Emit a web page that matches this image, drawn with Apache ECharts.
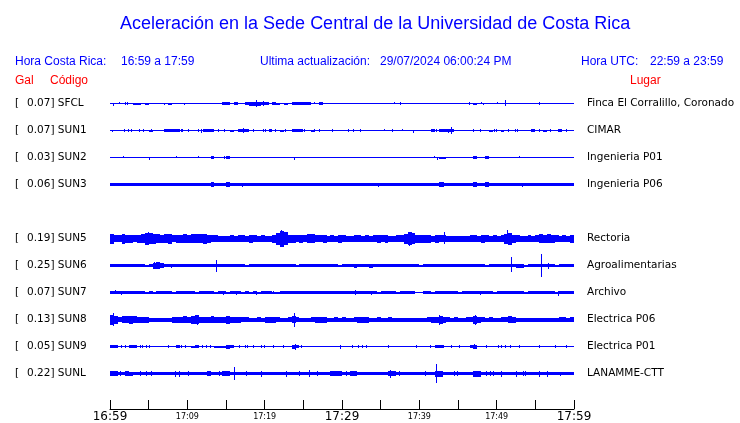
<!DOCTYPE html>
<html><head><meta charset="utf-8">
<script src="https://cdn.jsdelivr.net/npm/echarts@6/dist/echarts.min.js"></script>
<style>html,body{margin:0;padding:0;background:#fff}#c{width:740px;height:423px}</style>
</head><body><div id="c"></div>
<script>
// ---- data ----
const stations = ['SFCL','SUN1','SUN2','SUN3','SUN5','SUN6','SUN7','SUN8','SUN9','SUNL'];
const peakGal  = ['0.07','0.07','0.03','0.06','0.19','0.25','0.07','0.13','0.05','0.22'];
const places   = ['Finca El Corralillo, Coronado','CIMAR','Ingenieria P01','Ingenieria P06','Rectoria','Agroalimentarias','Archivo','Electrica P06','Electrica P01','LANAMME-CTT'];
const slots    = [0,1,2,3,5,6,7,8,9,10];
const tickLabels = ['16:59','17:09','17:19','17:29','17:39','17:49','17:59'];
const bigTicks   = [0,30,60];

// envelope thickness per 30-second bin (base-36 digit = band height)
const env_SFCL = "1111112212 1111121111 1111111113 3131134443 3132121333 3311311111 1111111111 1111111111 1111111111 1111211111 1111111111 1111111111";
const env_SUN1 = "1111111111 2111333311 1111333111 1213331111 1311211333 1121111111 1111111111 1111111111 1113133331 1111111121 1211111113 1121113111";
const env_SUN2 = "1111111111 1111111111 1111113111 3111111111 1111111111 1111111111 1111111111 1111111111 1111122111 1111311311 1111111111 1111111111";
const env_SUN3 = "3333333333 3333333333 3333335333 5333333333 3333333333 3333333333 3333333333 3333333333 3333353333 3333533533 3333333333 3333333333";
const env_SUN5 = "a77a88789c ba989a7889 8999a87766 6767768767 668cgd8878 7997786768 7667767678 786677adb8 8886877666 6667768767 67ac876676 7989876768";
const env_SUN6 = "3333333332 3675333333 3333333333 3333323333 3333333323 3333333332 3334333433 3333333333 2333333333 3333333233 3333344233 3333323333";
const env_SUN7 = "3333333332 3233332333 3323333233 2333232323 3322333333 3333333333 3333333332 3333233331 1332333333 2333333332 3333333233 3333323333";
const env_SUN8 = "a857787666 4444446667 6896667666 8666554454 6665445754 4456664454 5445666445 4454444444 4456686545 4455865454 4557644444 4444445545";
const env_SUN9 = "3311133111 1111111311 1231111222 4311111111 1111111431 1111111111 1111111111 1111111111 1111331111 1113411111 1111111111 1111111111";
const env_SUNL = "5533543333 3333333333 3333353335 5333333333 3333333333 3333333555 3355333333 3355333333 3333663333 3333663333 3333333333 3333333333";

// narrow spikes: [minute, up, down]
const spk_SFCL = [[0.45,0.5,2],[1.2,2,0.5],[1.95,2,1],[2.3,1.5],[7,1,1.5],[9.6,0.5,1.5],[18.95,3.5],[19.85,3,2],[26.4,1.5,0.5],[36.85,1.5,0.5],[37.6,1.5],[46.5,1.5],[48.05,1.5,0.5],[48.3,0.5,1.5],[50.1,1.5,0.5],[51.2,3.3,2.7],[55.6,1.5]];
const spk_SUN1 = [[0.3,0.5,1.5],[1.85,1.5],[2.35,1.5],[2.8,1.5],[3.8,1.5],[4.3,1.5],[5.4,1.5],[9.2,1.5],[9.4,1.5],[10.15,1.5],[11.5,1.5],[11.85,2],[14,1.5],[14.85,1.5],[17.25,2.5],[18.5,1.5],[19.9,1.5],[20.15,1.5],[21.4,1.5],[22.65,1.5],[25.15,1.5],[26.4,1.5],[27.15,1.5],[28.75,1.5],[30.8,1.5],[31.45,1.5],[32.4,1.5],[35.5,2,0.5],[36.5,1.5],[37.8,2,0.5],[39.3,0.5,2],[41.9,1.5],[42.25,1.5],[43.75,2],[44.1,3.5],[47,1.5],[47.85,1.5],[49.7,1.5],[50,1.5],[51.5,1.5],[52.4,1.5],[52.7,1.5],[55.5,1.5],[56.9,1.5],[58,1.5],[59.05,1.5]];
const spk_SUN2 = [[1.7,2,0.5],[5.15,0.5,2],[8.6,2,0.5],[11.4,2,0.5],[14.85,1.5],[23.8,0.5,2],[41.95,2,0.5],[42.35,0.5,2],[52.95,2,0.5]];
const spk_SUN3 = [[17.1,1.5,2.5],[34.7,1.5,2.5],[43.1,2.7],[53.35,2]];
const spk_SUN5 = [[4.95,7,6],[22.2,8.5,8.5],[38.75,7,7.5],[43.25,7,5],[51.45,8.5,5.5]];
const spk_SUN6 = [[0.55,2,0.5],[5.8,3.5],[8,0.5,2.5],[13.8,6],[51.95,8.3,6.7],[55.75,11.7],[56.7,3]];
const spk_SUN7 = [[0.75,2.5,1.5],[1.5,1.5,2.5],[9.4,2,1.5],[14.65,1.5,2],[16.4,1.5,2],[18.95,2],[21.1,2,1.5],[24.5,2,1.5],[31.7,2.5],[33.85,2],[47.85,2],[58,1.5,3]];
const spk_SUN8 = [[0.45,6.3,6],[11.35,5],[15.3,4,4.7],[23.9,6.3,7],[42.55,5],[47.25,5,5.7]];
const spk_SUN9 = [[1.5,1.5],[1.95,1.5],[3.9,1.5],[4.2,1.5],[4.75,1.5],[5.15,1.5],[7.55,1.5],[9.2,1.5],[9.7,1.5],[11.95,1.5],[12.5,1.5],[13,1.5],[15.95,1.5],[16.8,1.5],[17.5,1.5],[17.75,1.5],[18.5,1.5],[19.6,1.5],[20,1.5],[21.1,1.5],[22.4,1.5],[24,3],[24.8,1.5],[29.75,1.5],[29.85,0.5,2],[31.35,1.5],[32.1,1.5],[32.7,1.5],[33.2,1.5],[36,1.5],[39.65,1.5],[41.4,1.5],[43.1,1.5],[44.2,1.5],[45.25,1.5],[47.15,2.5],[48.7,1.5],[50.2,1.5],[50.65,1.5],[51.1,1.5],[51.75,1.5],[53,1.5],[55.6,1.5],[57.55,1.5],[59,1.5]];
const spk_SUNL = [[1.4,2.5],[3.9,2.5],[4.75,2.5],[5.4,2.5],[8.5,3],[9,3],[10.15,2.5],[14.2,2.5],[16.15,6.7],[17.65,2.5],[19.6,3],[22.85,3],[24.55,2.5],[25.85,3.3],[26.8,2.5],[30.6,2.5],[36.25,4],[37.4,2.5],[40.75,2.5],[42.25,9.3],[44.6,2.5],[44.9,2.5],[48.7,2.5],[49.15,2.5],[49.6,2.5],[50.65,3],[52.6,3],[53.5,2.5],[53.7,2.5],[55.6,3],[56.6,3],[58.2,2]];

const envStrings = [env_SFCL,env_SUN1,env_SUN2,env_SUN3,env_SUN5,env_SUN6,env_SUN7,env_SUN8,env_SUN9,env_SUNL];
const spikeLists = [spk_SFCL,spk_SUN1,spk_SUN2,spk_SUN3,spk_SUN5,spk_SUN6,spk_SUN7,spk_SUN8,spk_SUN9,spk_SUNL];

// ---- build series data ----
const SLOT = 27, BIN = 0.5;
const center = s => 13.5 + SLOT * s;
const envData = [], spikeData = [], labelData = [];
envStrings.forEach((str, k) => {
  const v = str.replace(/\s/g,'').split('').map(ch => parseInt(ch, 36));
  let i = 0;
  while (i < v.length) {
    let j = i; while (j + 1 < v.length && v[j+1] === v[i]) j++;
    envData.push([i*BIN, (j+1)*BIN, center(slots[k]), v[i]]);
    i = j + 1;
  }
  spikeLists[k].forEach(p => spikeData.push([p[0], center(slots[k]), p[1], p.length > 2 ? p[2] : p[1]]));
  labelData.push([0, center(slots[k]), k]);
});

const BLUE = '#0000ff';
const HF = '12px "Liberation Sans", Arial, sans-serif';
const chart = echarts.init(document.getElementById('c'), null, {renderer:'canvas'});
chart.setOption({
  animation: false,
  title: {
    text: 'Aceleración en la Sede Central de la Universidad de Costa Rica',
    left: 115, top: 10,
    textStyle: {color: BLUE, fontSize: 18, fontWeight: 'normal', fontFamily: 'Liberation Sans'}
  },
  graphic: [
    {type:'text', left:15, top:55.5, style:{text:'Hora Costa Rica:', fill:BLUE, font:HF}},
    {type:'text', left:121, top:55.5, style:{text:'16:59 a 17:59', fill:BLUE, font:HF}},
    {type:'text', left:260, top:55.5, style:{text:'Ultima actualización:', fill:BLUE, font:HF}},
    {type:'text', left:380, top:55.5, style:{text:'29/07/2024 06:00:24 PM', fill:BLUE, font:HF}},
    {type:'text', left:581, top:55.5, style:{text:'Hora UTC:', fill:BLUE, font:HF}},
    {type:'text', left:650, top:55.5, style:{text:'22:59 a 23:59', fill:BLUE, font:HF}},
    {type:'text', left:15, top:75, style:{text:'Gal', fill:'#ff0000', font:HF}},
    {type:'text', left:50, top:75, style:{text:'Código', fill:'#ff0000', font:HF}},
    {type:'text', left:630, top:75, style:{text:'Lugar', fill:'#ff0000', font:HF}}
  ],
  grid: {left: 110, top: 90, width: 464, height: 319, containLabel: false},
  xAxis: {
    type: 'value', min: 0, max: 60, interval: 5, position: 'bottom',
    axisLine: {show: true, onZero: false, lineStyle: {color: '#000', width: 1}},
    axisTick: {show: true, inside: true, length: 9, lineStyle: {color: '#000'}},
    splitLine: {show: false},
    axisLabel: {
      margin: 1,
      formatter: v => {
        if (v % 10 !== 0) return '';
        const t = tickLabels[v/10];
        return bigTicks.indexOf(v) >= 0 ? '{b|' + t + '}' : '{s|' + t + '}';
      },
      rich: {
        b: {fontSize: 12, lineHeight: 14, fontFamily: 'DejaVu Sans', color: '#000'},
        s: {fontSize: 8, lineHeight: 14, fontFamily: 'DejaVu Sans', color: '#000'}
      }
    }
  },
  yAxis: {type: 'value', min: 0, max: 319, inverse: true, show: false},
  series: [
    {
      type: 'custom', coordinateSystem: 'cartesian2d', data: envData, silent: true,
      renderItem: (params, api) => {
        const a = api.coord([api.value(0), api.value(2) - api.value(3)/2]);
        const b = api.coord([api.value(1), api.value(2) + api.value(3)/2]);
        const x0 = Math.round(a[0]), x1 = Math.round(b[0]);
        const y0 = Math.round(a[1]); const y1 = Math.max(y0 + 1, Math.round(b[1]));
        return {type:'rect', shape:{x:x0, y:y0, width:x1-x0, height:y1-y0}, style:{fill:BLUE}};
      }
    },
    {
      type: 'custom', coordinateSystem: 'cartesian2d', data: spikeData, silent: true,
      renderItem: (params, api) => {
        const a = api.coord([api.value(0), api.value(1) - api.value(2)]);
        const b = api.coord([api.value(0), api.value(1) + api.value(3)]);
        const x = Math.floor(a[0]);
        const y0 = Math.round(a[1]); const y1 = Math.max(y0 + 1, Math.round(b[1]));
        return {type:'rect', shape:{x:x, y:y0, width:1, height:y1-y0}, style:{fill:BLUE}};
      }
    },
    {
      type: 'custom', coordinateSystem: 'cartesian2d', data: labelData, silent: true, clip: false,
      renderItem: (params, api) => {
        const k = api.value(2);
        const y = api.coord([0, api.value(1)])[1];
        const f = '10.5px "DejaVu Sans"';
        return {type:'group', children:[
          {type:'text', style:{text:'[', x:15, y:y, fill:'#000', font:f, textVerticalAlign:'middle'}},
          {type:'text', style:{text:peakGal[k] + '] ' + stations[k], x:27, y:y, fill:'#000', font:f, textVerticalAlign:'middle'}},
          {type:'text', style:{text:places[k], x:587, y:y, fill:'#000', font:f, textVerticalAlign:'middle'}}
        ]};
      }
    }
  ]
});
</script></body></html>
